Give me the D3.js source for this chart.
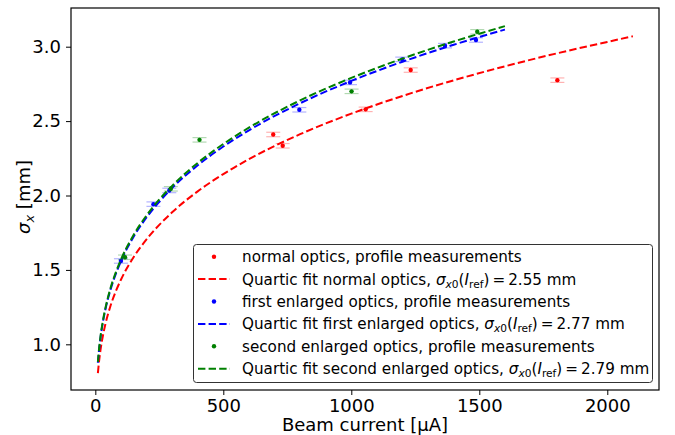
<!DOCTYPE html>
<html>
<head>
<meta charset="utf-8">
<script src="https://cdn.jsdelivr.net/npm/d3@7"></script>
<style>
  html, body { margin: 0; padding: 0; background: #fff; }
  svg { display: block; font-family: "DejaVu Sans", sans-serif; }
</style>
</head>
<body>
<svg id="chart" width="675" height="435"></svg>
<script>
// ---- data ----
const xTicks = [0, 500, 1000, 1500, 2000];
const yTicks = [1.0, 1.5, 2.0, 2.5, 3.0];

const normalI     = [695, 732, 1056, 1232, 1805];
const normalSigma = [2.41, 2.334, 2.579, 2.843, 2.775];

const firstI      = [100, 227, 289, 797, 995, 1199, 1366, 1487];
const firstSigma  = [1.56, 1.942, 2.034, 2.576, 2.76, 2.915, 3.007, 3.045];

const secondI     = [116, 295, 407, 1001, 1492];
const secondSigma = [1.585, 2.045, 2.374, 2.70, 3.10];

const yErr = 0.015;

const fitNormalI     = [10, 15, 20, 30, 40, 60, 80, 100, 150, 200, 300, 400, 500, 600, 800, 1000, 1200, 1400, 1600, 1800, 2000, 2100];
const fitNormalSigma = [0.806, 0.892, 0.959, 1.061, 1.140, 1.262, 1.356, 1.434, 1.587, 1.705, 1.887, 2.028, 2.144, 2.244, 2.412, 2.550, 2.669, 2.774, 2.868, 2.954, 3.032, 3.070];

const fitFirstI      = [10, 15, 20, 30, 40, 60, 80, 100, 150, 200, 300, 400, 500, 600, 800, 1000, 1200, 1400, 1600];
const fitFirstSigma  = [0.876, 0.969, 1.042, 1.153, 1.239, 1.371, 1.473, 1.558, 1.724, 1.852, 2.050, 2.203, 2.329, 2.438, 2.620, 2.770, 2.899, 3.013, 3.115];

const fitSecondI     = [10, 15, 20, 30, 40, 60, 80, 100, 150, 200, 300, 400, 500, 600, 800, 1000, 1200, 1400, 1600];
const fitSecondSigma = [0.882, 0.976, 1.049, 1.161, 1.248, 1.381, 1.484, 1.569, 1.736, 1.866, 2.065, 2.219, 2.346, 2.456, 2.639, 2.790, 2.920, 3.035, 3.138];

const seriesNames = ["normal optics", "first enlarged optics", "second enlarged optics"];
const fitValues   = ["2.55", "2.77", "2.79"];
const colors      = ["#ff0000", "#0000ff", "#008000"];

// ---- layout ----
const plot = { left: 71, right: 659, top: 8, bottom: 390 };

const svg = d3.select("#chart");

const x = d3.scaleLinear().domain([-95, 2202]).range([plot.left, plot.right]);
const y = d3.scaleLinear().domain([0.693, 3.260]).range([plot.bottom, plot.top]);

svg.append("defs").append("clipPath").attr("id", "clip")
  .append("rect").attr("x", plot.left).attr("y", plot.top)
  .attr("width", plot.right - plot.left).attr("height", plot.bottom - plot.top);

const g = svg.append("g").attr("clip-path", "url(#clip)");

const line = d3.line().x(d => x(d[0])).y(d => y(d[1])).curve(d3.curveMonotoneX);

const pts = [
  [normalI, normalSigma],
  [firstI, firstSigma],
  [secondI, secondSigma]
];
const fits = [
  [fitNormalI, fitNormalSigma],
  [fitFirstI, fitFirstSigma],
  [fitSecondI, fitSecondSigma]
];

for (let s = 0; s < 3; s++) {
  const [xs, ys] = pts[s];
  const data = xs.map((v, i) => [v, ys[i]]);
  const eg = g.append("g").attr("stroke", colors[s]).attr("stroke-opacity", 0.3).attr("stroke-width", 1.2);
  data.forEach(d => {
    const cx = x(d[0]);
    const y1 = y(d[1] + yErr), y2 = y(d[1] - yErr);
    eg.append("line").attr("x1", cx).attr("x2", cx).attr("y1", y1).attr("y2", y2);
    eg.append("line").attr("x1", cx - 7).attr("x2", cx + 7).attr("y1", y1).attr("y2", y1);
    eg.append("line").attr("x1", cx - 7).attr("x2", cx + 7).attr("y1", y2).attr("y2", y2);
  });
  g.append("g").selectAll("circle").data(data).join("circle")
    .attr("cx", d => x(d[0])).attr("cy", d => y(d[1])).attr("r", 2.2)
    .attr("fill", colors[s]);

  const [fx, fy] = fits[s];
  g.append("path").datum(fx.map((v, i) => [v, fy[i]]))
    .attr("d", line).attr("fill", "none")
    .attr("stroke", colors[s]).attr("stroke-width", 2)
    .attr("stroke-dasharray", "7.4,3.2");
}

// axes
const xAxis = d3.axisBottom(x).tickValues(xTicks).tickSize(5).tickPadding(4).tickFormat(d3.format("d"));
const yAxis = d3.axisLeft(y).tickValues(yTicks).tickSize(5).tickPadding(5).tickFormat(d3.format(".1f"));

const gx = svg.append("g").attr("transform", `translate(0,${plot.bottom})`).call(xAxis);
const gy = svg.append("g").attr("transform", `translate(${plot.left},0)`).call(yAxis);
[gx, gy].forEach(a => {
  a.select(".domain").remove();
  a.selectAll(".tick line").attr("stroke", "#000").attr("stroke-width", 1);
  a.selectAll(".tick text").attr("fill", "#000").attr("font-size", 18)
    .attr("font-family", "DejaVu Sans");
});

// frame
svg.append("rect").attr("x", plot.left).attr("y", plot.top)
  .attr("width", plot.right - plot.left).attr("height", plot.bottom - plot.top)
  .attr("fill", "none").attr("stroke", "#000").attr("stroke-width", 1.2);

// axis labels
svg.append("text").attr("x", (plot.left + plot.right) / 2).attr("y", 431)
  .attr("text-anchor", "middle").attr("font-size", 18).text("Beam current [μA]");

const yl = svg.append("text").attr("transform", `translate(30,${(plot.top + plot.bottom) / 2 - 2}) rotate(-90)`)
  .attr("text-anchor", "middle").attr("font-size", 18);
yl.append("tspan").attr("font-style", "italic").text("σ");
yl.append("tspan").attr("font-style", "italic").attr("font-size", 13).attr("dy", 4).text("x");
yl.append("tspan").attr("dy", -4).text(" [mm]");

// legend
const lg = svg.append("g");
lg.append("rect").attr("x", 193.5).attr("y", 244.5).attr("width", 459).attr("height", 138)
  .attr("rx", 3).attr("fill", "#fff").attr("fill-opacity", 0.8)
  .attr("stroke", "#333").attr("stroke-width", 1);

const rowY0 = 256.7, rowDY = 22.4;
const fs = 15.2;
for (let s = 0; s < 3; s++) {
  const yDot = rowY0 + rowDY * (2 * s);
  const yLine = rowY0 + rowDY * (2 * s + 1);
  lg.append("circle").attr("cx", 214).attr("cy", yDot).attr("r", 2.2).attr("fill", colors[s]);
  lg.append("text").attr("x", 242).attr("y", yDot + 5.5).attr("font-size", fs)
    .text(`${seriesNames[s]}, profile measurements`);

  lg.append("line").attr("x1", 198).attr("x2", 230).attr("y1", yLine).attr("y2", yLine)
    .attr("stroke", colors[s]).attr("stroke-width", 2).attr("stroke-dasharray", "7.4,3.2");
  const t = lg.append("text").attr("x", 242).attr("y", yLine + 5.5).attr("font-size", fs);
  t.append("tspan").text(`Quartic fit ${seriesNames[s]}, `);
  t.append("tspan").attr("font-style", "italic").text("σ");
  t.append("tspan").attr("font-style", "italic").attr("font-size", fs * 0.7).attr("dy", 3).text("x");
  t.append("tspan").attr("font-size", fs * 0.7).text("0");
  t.append("tspan").attr("dy", -3).text("(");
  t.append("tspan").attr("font-style", "italic").text("I");
  t.append("tspan").attr("font-size", fs * 0.7).attr("dy", 3).text("ref");
  t.append("tspan").attr("dy", -3).text(")\u2009=\u2009" + fitValues[s] + " mm");
}
</script>
</body>
</html>
